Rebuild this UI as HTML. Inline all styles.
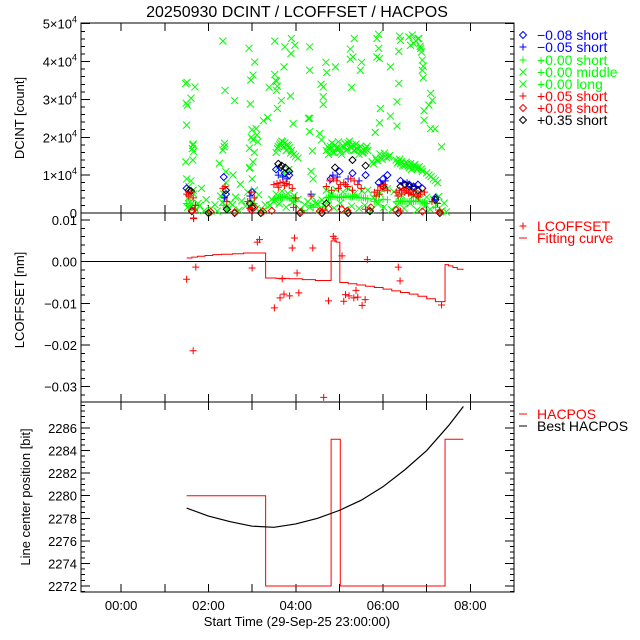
<!DOCTYPE html>
<html><head><meta charset="utf-8">
<style>
html,body{margin:0;padding:0;background:#fff;}
svg{display:block;font-family:"Liberation Sans",sans-serif;}
</style></head>
<body>
<svg id="chart" width="640" height="640" viewBox="0 0 640 640">
<rect width="640" height="640" fill="#fff"/>
<text x="297" y="17" font-size="16" text-anchor="middle">20250930 DCINT / LCOFFSET / HACPOS</text>
<g id="axes"></g>
<g id="marks"></g>
<g id="legends"></g>
</svg>
<script>
// ===== data =====
const xTickLabels = ["00:00","02:00","04:00","06:00","08:00"];
const xTickHours = [0,2,4,6,8];
// top panel DCINT
const topTickVals = [0,10000,20000,30000,40000,50000];
const topTickMant = ["0","1","2","3","4","5"];
const midT = [1.48,1.69,1.60,1.52,1.50,2.33,2.38,2.60,2.93,3.06,3.02,2.97,2.96,3.52,3.90,3.98,3.75,3.89,3.73,3.52,3.56,3.39,3.56,3.88,3.67,3.58,3.36,3.26,3.94,3.09,4.29,4.32,3.11,3.02,3.13,2.94,2.37,2.33,1.64,1.66,1.64,1.48,3.02,2.94,2.25,2.40,2.56,2.73,1.84,
4.32,4.32,5.34,5.25,5.31,5.25,5.51,5.48,4.69,4.71,4.91,4.58,4.63,4.63,4.63,5.28,5.90,5.86,5.90,5.86,5.92,6.17,6.38,6.40,6.36,6.36,6.59,6.67,6.82,6.63,6.86,6.90,6.90,6.92,7.09,7.13,7.05,6.32,5.94,6.17,5.92,6.32,6.94,6.94,7.09,7.19,7.34,4.32,4.55,5.82,4.38,4.59,
6.70,6.75,6.80,6.85,6.88,6.92,1.49,1.51,1.63,1.65,2.36,3.00,3.05,2.98,3.54,3.58];
const midV = [34200,33300,30300,28500,23200,45400,32400,29700,43500,39900,36400,35100,28800,45400,46100,44300,43900,42100,38600,36600,34800,33200,32400,30900,29700,27600,25200,24400,23600,22300,25000,21500,20600,19300,18800,17100,18400,16600,17900,16200,14000,13500,13500,11800,13100,10900,10000,7600,6500,
43900,37700,46100,43300,41200,40600,39800,37700,39800,37100,38600,34000,33300,30700,28700,33200,47200,46100,43500,41200,40800,38600,46700,45600,42700,34200,46500,47000,46100,44300,43500,40400,37700,35700,31600,29800,28500,29400,27600,25600,23800,23000,27000,24500,22300,22200,17500,25000,21000,21300,16400,19300,
44800,45500,46000,44000,42500,38800,29000,34500,17000,18200,17500,22000,16000,20000,35000,33500];
const longT = [1.50,1.55,1.60,1.65,2.35,2.40,2.95,3.00,3.05,3.55,3.60,3.65,3.70,3.75,3.80,3.85,3.90,3.95,4.00,4.05,4.35,4.40,4.70,4.80,4.90,5.00,5.10,5.20,5.30,5.40,5.50,5.60,5.65,5.75,5.85,5.95,6.05,6.15,6.30,6.40,6.50,6.60,6.70,6.80,6.90,7.05,7.15,7.25,
1.52,1.62,1.72,1.80,1.90,2.05,2.20,2.32,2.45,2.55,2.70,2.85,2.98,3.10,3.25,3.40,3.50,3.62,3.78,3.92,4.10,4.20,4.32,4.45,4.55,4.65,4.75,4.88,5.02,5.15,5.28,5.45,5.58,5.72,5.88,6.02,6.20,6.32,6.48,6.62,6.78,6.95,7.08,7.22,7.35,7.45,
3.60,3.72,3.84,4.75,4.85,4.95,5.05,5.15,5.25,5.35,5.45,5.55,6.35,6.45,6.55,6.65,6.75,
3.58,3.63,3.68,3.73,3.78,3.83,3.88,4.73,4.78,4.83,4.88,4.93,4.98,5.03,5.08,5.13,5.18,5.23,5.28,5.33,5.38,5.43,5.48,5.53,5.58,5.63,5.78,5.83,5.88,5.93,5.98,6.03,6.08,6.13,6.33,6.38,6.43,6.48,6.53,6.58,6.63,6.68,6.73,6.78,6.83,6.88,7.00,7.10,7.20,
1.54,1.58,1.66,1.76,1.95,2.15,2.28,2.38,2.50,2.62,2.76,2.90,3.02,3.15,3.30,3.45,3.55,3.68,3.82,3.96,4.05,4.28,4.38,4.50,4.60,4.70,4.82,4.92,5.08,5.22,5.35,5.52,5.65,5.78,5.92,6.10,6.25,6.42,6.55,6.70,6.85,7.00,7.15,7.28,7.40];
const longV = [9000,7000,8500,6000,5000,8000,12000,9000,6000,16000,17500,18500,18800,18500,18000,17200,16500,15500,15000,14500,11000,9000,16500,17500,18000,17000,17500,18500,18000,17000,16500,17000,16500,13500,14000,14500,15000,15200,14000,13000,12500,12000,12500,12000,11000,10000,9000,8000,
1500,2500,800,2000,600,1200,500,2800,1000,2200,700,1800,2500,1200,600,2000,3000,2400,1500,2800,1000,2200,1500,2600,800,1800,2200,1300,2600,900,1800,1200,2000,700,2400,1500,900,2000,1200,2500,800,1600,1000,2000,600,300,
12000,10500,11500,15500,16000,17000,15500,16500,17500,16500,15500,16000,13500,12500,13000,11500,12000,
17000,18000,19000,17500,16500,17800,15800,17500,16800,18500,16000,17200,18800,16200,17800,18300,16800,19000,17300,16500,18200,16800,17600,15800,16400,17600,13000,14500,13800,15600,14200,15800,14600,14800,13200,14200,13600,12800,13400,12400,13000,11800,12800,11500,12200,11600,10600,9600,8600,
4000,3000,5000,2500,3500,2200,4500,3800,2600,4200,3200,5500,3000,4800,2200,3600,5000,5800,5200,4600,3600,3000,4200,2400,3400,6000,5000,6200,5600,6400,5200,5800,6000,4000,5200,6400,5600,4800,5400,4600,5200,4200,3600,4400,2600];
const shortGT = [1.50,1.60,1.70,2.35,2.45,2.95,3.05,3.50,3.60,3.70,3.80,3.90,4.00,4.35,4.70,4.80,4.90,5.00,5.10,5.20,5.30,5.40,5.50,5.60,5.80,5.90,6.00,6.10,6.30,6.40,6.50,6.60,6.70,6.80,6.90,7.00,7.20,2.00,2.65,3.20,4.15,4.60,5.70,7.30,
3.55,3.65,3.75,3.85,3.95,4.75,4.85,4.95,5.05,5.15,5.25,5.35,5.45,5.55,5.65,6.35,6.45,6.55,6.65,6.75,6.85,6.95,1.55,2.40,3.00,4.40];
const shortGV = [2500,1500,2000,2000,1000,1500,2500,3500,4000,4200,4000,3800,3000,2000,4000,4200,4300,4000,4100,4500,4300,4200,4000,3900,3000,3400,3600,3500,3000,3200,3000,3100,3000,3200,2900,2500,1500,500,800,600,700,900,1000,400,
3800,4100,4300,3900,3400,4100,4400,4200,4300,4400,4200,4500,4100,4000,3800,3100,3100,3000,3200,3100,3000,2700,1800,1500,2000,1500];
const redPT = [1.50,1.55,1.60,1.65,1.70,2.33,2.38,2.42,2.90,2.98,3.05,3.50,3.57,3.64,3.71,3.78,3.85,3.92,4.00,4.35,4.70,4.78,4.86,4.94,5.02,5.10,5.18,5.26,5.34,5.42,5.50,5.80,5.88,5.95,6.02,6.10,6.30,6.38,6.46,6.54,6.62,6.70,6.78,6.86,6.95,7.12,7.25,1.68,2.95,3.95,4.62,5.60,6.40,7.30,1.66,
6.34,6.42,6.50,6.58,6.66,6.74,6.82,5.84,5.92,6.00,3.60,3.74,4.82,4.98,5.14,5.30];
const redPV = [5000,4500,5500,4000,2000,6500,7000,3000,3000,5500,4000,7500,7800,8000,8200,7800,7500,6500,4000,4500,7000,8500,9000,8500,7500,8000,7000,9000,8500,7500,6500,5500,6000,7000,7500,6000,5500,6000,6500,6000,5500,5000,4500,5000,5500,3000,2500,800,1200,1500,700,1000,500,800,-1500,
4500,5000,5500,5200,4800,5800,4200,4500,5000,6500,6800,7200,6000,6500,7500,6000];
const blueDT = [1.50,2.35,2.40,3.00,3.55,3.65,3.75,3.85,4.80,5.00,5.30,5.60,5.90,6.00,6.10,6.40,6.50,6.60,6.70,6.80,6.90,7.20];
const blueDV = [6500,9500,5000,5500,11500,12000,10500,10000,9000,11000,10500,10000,8000,9000,10000,8500,7500,7500,7000,7500,6500,4000];
const bluePT = [1.55,2.37,2.95,3.60,3.70,3.80,4.35,4.85,4.95,5.20,5.45,5.95,6.05,6.45,6.55,6.65,6.75,7.18];
const bluePV = [5500,4000,4500,10000,9500,9000,5000,10000,9500,9000,8500,7500,8500,8000,8000,7000,7000,3500];
const redDT = [1.62,2.05,2.60,2.98,3.25,3.45,4.12,4.55,4.75,5.18,5.72,6.30,6.90,7.30,3.05,5.05];
const redDV = [700,300,200,800,400,600,300,500,1200,600,1500,800,400,200,1500,1000];
const blackDT = [1.55,1.60,2.40,2.42,2.95,3.60,3.68,3.76,3.85,4.90,5.30,5.60,6.00,6.40,6.50,6.60,6.70,6.80,7.20,1.62,2.00,2.60,3.20,4.10,4.60,5.20,5.70,6.35,7.30,3.00,4.70];
const blackDV = [6000,5800,6000,1000,2500,13000,12500,12000,11000,12000,14000,12500,7000,7000,7500,7000,6500,6000,3500,500,0,0,0,0,0,0,500,0,0,1500,2500];
// middle panel LCOFFSET
const midTickVals = [0.01,0,-0.01,-0.02,-0.03];
const midTickLabels = ["0.01","0.00","\u22120.01","\u22120.02","\u22120.03"];
const lcT = [1.66,1.50,1.71,1.65,3.00,3.12,3.17,3.51,3.64,3.69,3.73,3.86,3.92,3.97,4.03,4.07,4.39,4.64,4.75,4.86,4.90,5.06,5.10,5.14,5.22,5.33,5.38,5.42,5.52,5.59,5.64,6.35,6.39,7.34];
const lcV = [0.0105,-0.0042,-0.0013,-0.0214,-0.0015,0.0047,0.0053,-0.0111,-0.0087,-0.0041,-0.0078,-0.0082,0.0033,0.0057,-0.0027,-0.0075,0.0033,-0.0326,-0.0094,0.0061,0.0055,0.0014,-0.0095,-0.0079,-0.0082,-0.0087,-0.0069,-0.0085,-0.0105,-0.0091,0.0005,-0.0013,-0.0046,-0.0104];
const fitT = [1.50,1.62,1.75,1.92,2.10,2.30,2.55,2.80,3.31,3.55,3.85,4.15,4.45,4.81,4.93,5.01,5.20,5.40,5.60,5.80,6.00,6.20,6.40,6.60,6.80,7.00,7.20,7.42,7.50,7.60,7.70,7.83];
const fitV = [0.0009,0.0011,0.0013,0.0015,0.0017,0.0018,0.0019,0.0021,-0.0039,-0.0040,-0.0041,-0.0043,-0.0045,0.0050,0.0047,-0.0050,-0.0053,-0.0056,-0.0059,-0.0062,-0.0066,-0.0070,-0.0074,-0.0078,-0.0083,-0.0089,-0.0096,-0.0007,-0.0010,-0.0014,-0.0018,-0.0020];
// bottom panel HACPOS
const botTickVals = [2272,2274,2276,2278,2280,2282,2284,2286];
const hacT = [1.50,3.31,4.81,5.02,7.42,7.84];
const hacV = [2280,2272,2285,2272,2285,2285];
const bestT = [1.5,2.0,2.5,3.0,3.5,4.0,4.5,5.0,5.5,6.0,6.5,7.0,7.5,7.84];
const bestV = [2278.9,2278.2,2277.7,2277.3,2277.2,2277.5,2278.0,2278.7,2279.6,2280.8,2282.3,2284.0,2286.2,2287.9];

// ===== layout =====
const L=81,R=514;
const P1={top:23,bot:213,min:0,max:50000*(213-23)/(213-23.7)};
const P2={top:213,bot:402,min:-0.0337,max:0.0117};
const P3={top:402,bot:592,min:2271.47,max:2288.3};
const X=t=>L+(t+0.92)/9.92*(R-L);
const Yf=p=>v=>p.bot-(v-p.min)/(p.max-p.min)*(p.bot-p.top);
const Y1=Yf(P1),Y2=Yf(P2),Y3=Yf(P3);
const NS="http://www.w3.org/2000/svg";
const axes=document.getElementById('axes'),marks=document.getElementById('marks'),leg=document.getElementById('legends');
function mk(tag,attrs,parent){const e=document.createElementNS(NS,tag);for(const k in attrs)e.setAttribute(k,attrs[k]);parent.appendChild(e);return e;}
function line(x1,y1,x2,y2,c,parent){return mk('line',{x1,y1,x2,y2,stroke:c,'stroke-width':1,'shape-rendering':'crispEdges'},parent);}

// frames & ticks
[P1,P2,P3].forEach((p,i)=>{
  const fr=mk('rect',{x:L,y:p.top,width:R-L,height:p.bot-p.top,fill:'none',stroke:'#000','stroke-width':1,'shape-rendering':'crispEdges'},axes);
  
  
  for(let h=0;h<=8;h++){
    const x=X(h);
    line(x,p.bot,x,p.bot-8,'#000',axes);
    line(x,p.top,x,p.top+8,'#000',axes);
  }
});
// x labels
xTickHours.forEach((h,i)=>{
  const t=mk('text',{x:X(h),y:610,'font-size':13,'text-anchor':'middle'},axes);
  t.textContent=xTickLabels[i];
  
  
});
{const t=mk('text',{x:297,y:626,'font-size':13,'text-anchor':'middle'},axes);t.textContent='Start Time (29-Sep-25 23:00:00)';

}

function yTicks(p,Y,vals,minorStep,lo,hi){
  vals.forEach(v=>{const y=Y(v);line(L,y,L+9,y,'#000',axes);line(R,y,R-9,y,'#000',axes);});
  for(let v=lo;v<=hi+1e-12;v+=minorStep){const y=Y(v);if(y<p.top-0.5||y>p.bot+0.5)continue;line(L,y,L+4,y,'#000',axes);line(R,y,R-4,y,'#000',axes);}
}
yTicks(P1,Y1,topTickVals,2000,0,50000);
yTicks(P2,Y2,midTickVals,0.002,-0.034,0.012);
yTicks(P3,Y3,botTickVals,0.5,2271.5,2288);
topTickVals.forEach((v,i)=>{
  const t=mk('text',{x:77,y:Y1(v)+5,'font-size':13,'text-anchor':'end'},axes);
  if(i===0){t.textContent='0';}else{
    t.textContent=topTickMant[i]+'\u00d710';
    const s=mk('tspan',{dy:-6,'font-size':9},t);s.textContent='4';}
  
  
});
midTickVals.forEach((v,i)=>{
  const t=mk('text',{x:77,y:Y2(v)+5,'font-size':13,'text-anchor':'end'},axes);t.textContent=midTickLabels[i];
  
  
});
botTickVals.forEach(v=>{
  const t=mk('text',{x:77,y:Y3(v)+5,'font-size':13,'text-anchor':'end'},axes);t.textContent=String(v);
  
  
});
[['DCINT [count]',24,118,'y-axis-title-dcint'],['LCOFFSET [nm]',24,300,'y-axis-title-lcoffset'],['Line center position [bit]',30,497,'y-axis-title-hacpos']].forEach(a=>{
  const t=mk('text',{x:a[1],y:a[2],'font-size':13,'text-anchor':'middle',transform:`rotate(-90 ${a[1]} ${a[2]})`},axes);t.textContent=a[0];
  
  
});

// markers
function marker(type,x,y,c,parent){
  const s=3.5;let d;
  if(type==='D')d=`M${x} ${y-s}L${x+s} ${y}L${x} ${y+s}L${x-s} ${y}Z`;
  else if(type==='P')d=`M${x-s} ${y}H${x+s}M${x} ${y-s}V${y+s}`;
  else d=`M${x-s} ${y-s}L${x+s} ${y+s}M${x-s} ${y+s}L${x+s} ${y-s}`;
  return mk('path',{d,fill:'none',stroke:c,'stroke-width':1},parent);
}
function series(T,V,Y,type,c,name){
  const g=mk('g',{},marks);
  
  
  T.forEach((t,i)=>marker(type,X(t),Y(V[i]),c,g));
}
const G='#00ff00';
series(midT,midV,Y1,'X',G,'series-0.00-middle');
series(longT,longV,Y1,'X',G,'series-0.00-long');
series(shortGT,shortGV,Y1,'P',G,'series-0.00-short');
series(blueDT,blueDV,Y1,'D','#0000ff','series-minus-0.08-short');
series(bluePT,bluePV,Y1,'P','#0000ff','series-minus-0.05-short');
series(blackDT,blackDV,Y1,'D','#000','series-0.35-short');
series(redPT,redPV,Y1,'P','#ff0000','series-0.05-short');
series(redDT,redDV,Y1,'D','#ff0000','series-0.08-short');

// middle panel
{const z=line(L,Y2(0),R,Y2(0),'#000',marks);}
{let d='';fitT.forEach((t,i)=>{const x=X(t),y=Y2(fitV[i]);d+=(i===0?`M${x} ${y}`:`V${y}`);if(i<fitT.length-1)d+=`H${X(fitT[i+1])}`;});
const p=mk('path',{d,fill:'none',stroke:'#ff0000','stroke-width':1},marks);

}
series(lcT,lcV,Y2,'P','#ff0000','series-lcoffset');

// bottom panel
{let d='';hacT.forEach((t,i)=>{const x=X(t),y=Y3(hacV[i]);d+=(i===0?`M${x} ${y}`:`V${y}`);if(i<hacT.length-1)d+=`H${X(hacT[i+1])}`;});
const p=mk('path',{d,fill:'none',stroke:'#ff0000','stroke-width':1},marks);

}
{const pts=bestT.map((t,i)=>X(t)+','+Y3(bestV[i])).join(' ');
const p=mk('polyline',{points:pts,fill:'none',stroke:'#000','stroke-width':1.2},marks);

}

// legends
const legTop=[['D','#0000ff','\u22120.08 short'],['P','#0000ff','\u22120.05 short'],['P',G,'+0.00 short'],['X',G,'+0.00 middle'],['X',G,'+0.00 long'],['P','#ff0000','+0.05 short'],['D','#ff0000','+0.08 short'],['D','#000','+0.35 short']];
const legY=[35,47,60,72,84,96,108,120];
legTop.forEach((e,i)=>{
  const g=mk('g',{},leg);
  
  
  marker(e[0],523,legY[i],e[1],g);
  const t=mk('text',{x:537,y:legY[i]+5,'font-size':14,fill:e[1]},g);t.textContent=e[2];
});
function legLine(y,c,label,sym){
  const g=mk('g',{},leg);
  
  
  if(sym==='P')marker('P',523,y,c,g);else line(519,y,527,y,c,g);
  const t=mk('text',{x:537,y:y+5,'font-size':14,fill:c},g);t.textContent=label;
}
legLine(226,'#ff0000','LCOFFSET','P');
legLine(238,'#ff0000','Fitting curve','L');
legLine(414,'#ff0000','HACPOS','L');
legLine(426,'#000','Best HACPOS','L');
</script>
</body></html>
